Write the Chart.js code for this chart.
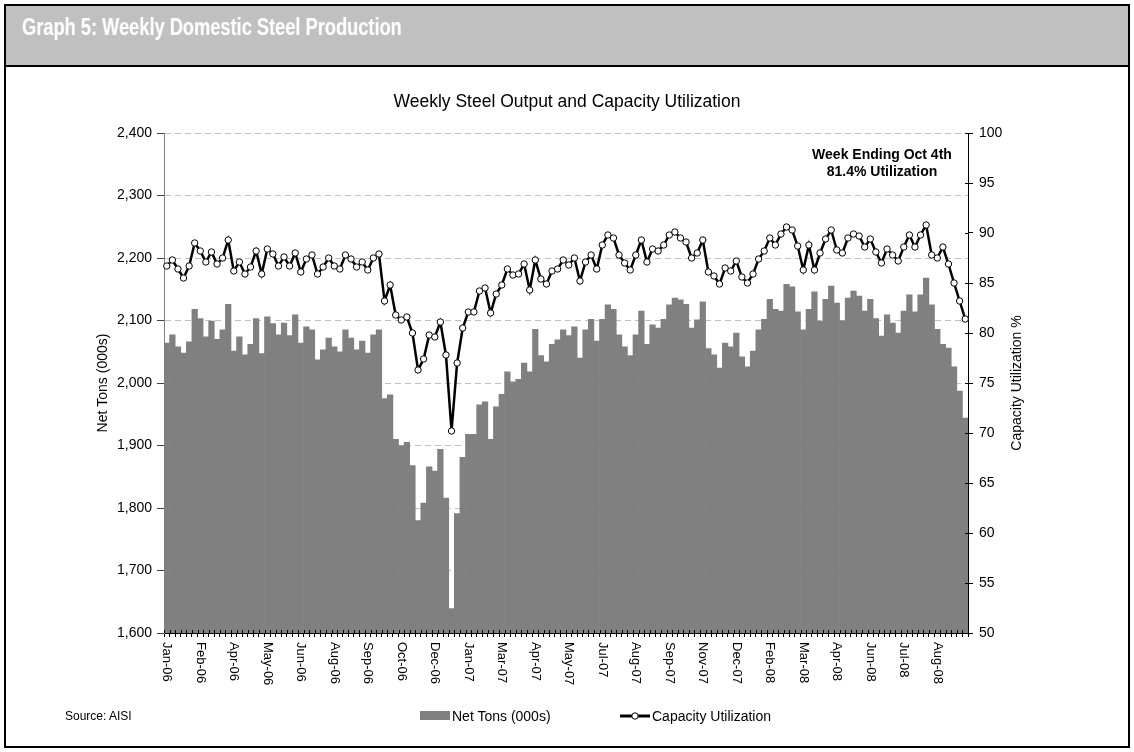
<!DOCTYPE html>
<html>
<head>
<meta charset="utf-8">
<script src="https://cdn.jsdelivr.net/npm/chart.js@4.4.0/dist/chart.umd.min.js"></script>
<style>
html,body{margin:0;padding:0;background:#fff;}
body{width:1134px;height:752px;position:relative;overflow:hidden;font-family:"Liberation Sans",Arial,sans-serif;color:#000;}
#frame{position:absolute;left:4px;top:4px;width:1126px;height:744px;border:2px solid #000;box-sizing:border-box;}
#header{position:absolute;left:0;top:0;right:0;height:59px;background:#c0c0c0;border-bottom:2px solid #000;}
#htext{position:absolute;left:16px;top:9px;color:#fff;font-weight:bold;font-size:24px;line-height:24px;font-family:"Liberation Sans",Arial,sans-serif;white-space:nowrap;transform:scaleX(0.76);transform-origin:0 50%;}
#chart{position:absolute;left:0;top:0;}
.txt{position:absolute;white-space:nowrap;line-height:16px;}
#source{left:65px;top:708px;font-size:12px;}
#leg1box{position:absolute;left:420px;top:711px;width:30px;height:9px;background:#808080;}
#leg1{left:452px;top:708px;font-size:14px;}
#leg2svg{position:absolute;left:619px;top:709px;}
#leg2{left:652px;top:708px;font-size:14px;}
#note{position:absolute;left:782px;top:146px;width:200px;text-align:center;font-weight:bold;font-size:14px;line-height:16.5px;}
</style>
</head>
<body>
<div id="frame"><div id="header"><div id="htext">Graph 5: Weekly Domestic Steel Production</div></div></div>
<canvas id="chart" width="1134" height="752"></canvas>
<div class="txt" id="source">Source: AISI</div>
<div id="leg1box"></div><div class="txt" id="leg1">Net Tons (000s)</div>
<svg id="leg2svg" width="32" height="14"><line x1="1" y1="7" x2="31" y2="7" stroke="#000" stroke-width="3"/><circle cx="16" cy="7" r="3.2" fill="#fff" stroke="#000" stroke-width="1"/></svg>
<div class="txt" id="leg2">Capacity Utilization</div>
<div id="note">Week Ending Oct 4th<br>81.4% Utilization</div>
<script>
// ---- data ----
const tickLabels = ['Jan-06','Feb-06','Apr-06','May-06','Jun-06','Aug-06','Sep-06','Oct-06','Dec-06','Jan-07','Mar-07','Apr-07','May-07','Jul-07','Aug-07','Sep-07','Nov-07','Dec-07','Feb-08','Mar-08','Apr-08','Jun-08','Jul-08','Aug-08'];
const tickEvery = 6;

const netTons = [
2064,2077,2058,2048,2066,2118,2103,2074,2099,2070,2085,2126,2051,2074,2045,2062,2103,2047,2106,2095,
2077,2096,2076,2109,2064,2090,2085,2037,2053,2072,2058,2050,2085,2072,2053,2067,2048,2077,2085,1975,
1981,1910,1900,1905,1868,1780,1808,1866,1859,1894,1816,1639,1791,1881,1918,1918,1965,1970,1910,1962,
1982,2018,2002,2006,2032,2018,2086,2044,2034,2062,2069,2085,2076,2090,2040,2085,2102,2067,2102,2125,
2118,2077,2058,2044,2077,2115,2062,2093,2088,2102,2125,2136,2133,2126,2088,2101,2130,2055,2045,2024,
2064,2058,2080,2042,2026,2051,2085,2102,2134,2118,2115,2158,2154,2114,2085,2118,2146,2099,2134,2155,
2128,2100,2136,2147,2139,2115,2134,2103,2075,2109,2096,2080,2115,2141,2114,2141,2168,2125,2086,2062,
2056,2026,1987,1944];

const utilization = [
86.7,87.3,86.4,85.5,86.7,89.0,88.2,87.1,88.1,86.9,87.5,89.3,86.2,87.1,85.9,86.6,88.2,85.9,88.4,87.9,
86.7,87.6,86.7,88.0,86.1,87.4,87.8,85.9,86.6,87.5,86.7,86.4,87.8,87.4,86.6,87.1,86.3,87.5,87.9,83.2,
84.8,81.8,81.3,81.6,80.0,76.3,77.4,79.8,79.6,81.1,77.8,70.2,77.0,80.5,82.1,82.1,84.2,84.5,82.0,83.9,
84.8,86.4,85.8,85.9,86.9,84.3,87.3,85.4,84.9,86.2,86.4,87.3,86.8,87.5,85.2,87.1,87.8,86.4,88.8,89.8,
89.5,87.8,87.0,86.3,87.8,89.3,87.1,88.4,88.2,88.8,89.8,90.1,89.5,89.1,87.5,88.0,89.3,86.1,85.7,84.9,
86.5,86.2,87.2,85.6,85.0,85.9,87.4,88.2,89.5,88.8,89.9,90.6,90.3,88.7,86.3,88.8,86.3,88.0,89.4,90.3,
88.3,88.0,89.5,89.9,89.7,88.6,89.4,88.1,87.0,88.4,87.8,87.2,88.6,89.8,88.6,89.8,90.8,87.8,87.5,88.6,
86.9,85.0,83.2,81.4];

// week-ending dates as categories (first week ending 7 Jan 2006)
const weeks = netTons.map((_, i) => new Date(Date.UTC(2006, 0, 7 + 7 * i)).toISOString().slice(0, 10));

const FONT = '"Liberation Sans", Arial, sans-serif';
Chart.defaults.font.family = FONT;
Chart.defaults.color = '#000';

const decorations = {
  id: 'decorations',
  afterDraw(chart) {
    const {ctx, chartArea: {top, bottom, left, right}, scales: {x, y1}} = chart;
    ctx.save();
    ctx.strokeStyle = '#000';
    ctx.lineWidth = 1;
    ctx.beginPath();
    for (let i = 0; i <= weeks.length; i++) {
      const px = Math.round(x.getPixelForValue(i - 0.5)) + 0.5;
      ctx.moveTo(px, bottom);
      ctx.lineTo(px, bottom - 3);
    }
    for (let v = y1.min; v <= y1.max; v += 5) {
      const py = Math.round(y1.getPixelForValue(v)) + 0.5;
      ctx.moveTo(right, py);
      ctx.lineTo(right - 3, py);
    }
    ctx.stroke();
    ctx.fillStyle = '#000';
    ctx.font = '13px ' + FONT;
    ctx.textAlign = 'left';
    ctx.textBaseline = 'middle';
    tickLabels.forEach((lab, k) => {
      const px = x.getPixelForValue(k * tickEvery);
      ctx.save();
      ctx.translate(px, bottom + 9);
      ctx.rotate(Math.PI / 2);
      ctx.fillText(lab, 0, 0);
      ctx.restore();
    });
    ctx.font = '14px ' + FONT;
    ctx.textAlign = 'center';
    ctx.save();
    ctx.translate(y1.left + 49, (top + bottom) / 2);
    ctx.rotate(-Math.PI / 2);
    ctx.fillText('Capacity Utilization %', 0, 0);
    ctx.restore();
    ctx.restore();
  }
};

new Chart(document.getElementById('chart'), {
  data: {
    labels: weeks,
    datasets: [
      {
        type: 'line', label: 'Capacity Utilization', data: utilization, yAxisID: 'y1', order: 0,
        borderColor: '#000', borderWidth: 2.5, tension: 0,
        pointRadius: 3.2, pointBackgroundColor: '#fff', pointBorderColor: '#000', pointBorderWidth: 1,
        clip: false
      },
      {
        type: 'bar', label: 'Net Tons (000s)', data: netTons, yAxisID: 'y', order: 1,
        backgroundColor: '#808080', borderWidth: 0, barPercentage: 1.0, categoryPercentage: 1.0
      }
    ]
  },
  options: {
    responsive: false, animation: false, devicePixelRatio: 1,
    layout: {padding: {left: 60, right: 60, top: 92, bottom: 59}},
    plugins: {
      legend: {display: false},
      tooltip: {enabled: false},
      title: {display: true, text: 'Weekly Steel Output and Capacity Utilization',
              font: {size: 17.5, weight: 'normal'}, color: '#000', padding: {top: 0, bottom: 20}}
    },
    scales: {
      x: {
        type: 'category', offset: true,
        grid: {display: true, drawOnChartArea: false, drawTicks: true, tickLength: 4, tickColor: '#000', offset: true},
        border: {display: true, color: '#000', width: 1},
        ticks: {display: false, autoSkip: false},
        afterFit: s => { s.height = 60; }
      },
      y: {
        position: 'left', min: 1600, max: 2400,
        ticks: {stepSize: 100, padding: 5, font: {size: 14}, color: '#000',
                callback: v => Number(v).toLocaleString('en-US')},
        grid: {color: '#c0c0c0', lineWidth: 1, tickLength: 7, tickColor: '#404040'},
        border: {color: '#808080', width: 1, dash: [6, 4]},
        title: {display: true, text: 'Net Tons (000s)', font: {size: 14}, color: '#000', padding: {top: 35, bottom: 0}},
        afterFit: s => { s.width = 104; }
      },
      y1: {
        position: 'right', min: 50, max: 100,
        ticks: {stepSize: 5, padding: 6, font: {size: 14}, color: '#000'},
        grid: {drawOnChartArea: false, tickLength: 5, tickColor: '#000'},
        border: {color: '#000', width: 1},
        afterFit: s => { s.width = 106; }
      }
    }
  },
  plugins: [decorations]
});
</script>
</body>
</html>
